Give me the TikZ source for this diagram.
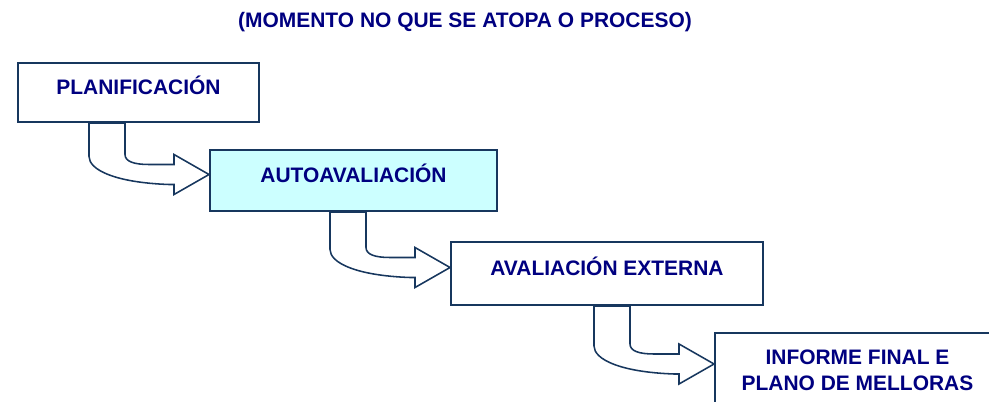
\documentclass[tikz,border=0pt]{standalone}
\usepackage{fontspec}
\setmainfont{Liberation Sans}
\usetikzlibrary{calc}
\definecolor{navytext}{RGB}{0,0,128}
\definecolor{boxline}{RGB}{23,55,94}
\definecolor{stagefill}{RGB}{204,255,255}
\def\pxu{0.025cm}
\tikzset{
  stage/.style={draw=boxline, line width=1.4pt, fill=white, inner sep=0pt,
    text=navytext, font=\fontsize{14.9}{18.5}\selectfont\bfseries,
    text height=10.7pt, text depth=8.5pt},
  bent/.style={draw=boxline, line width=1.1pt, fill=white, line join=miter}
}

\begin{document}
\begin{tikzpicture}[x=\pxu, y=-\pxu]
  \useasboundingbox (0,0) rectangle (989,402);
  \clip (0,0) rectangle (989,402);
  \node[text=navytext, font=\fontsize{14.9}{18}\selectfont\bfseries] (title) at (465,22) {(MOMENTO NO QUE SE ATOPA O PROCESO)};
  \node[stage, minimum width=241*\pxu, minimum height=59*\pxu] (plan) at (138.5,92.5) {PLANIFICACIÓN};
  \node[stage, fill=stagefill, minimum width=287*\pxu, minimum height=61*\pxu] (auto) at (353.5,180.5) {AUTOAVALIACIÓN};
  \node[stage, minimum width=312*\pxu, minimum height=63*\pxu] (ext) at (607,273.5) {AVALIACIÓN EXTERNA};
  \node[stage, text height={}, text depth={}, align=center, minimum width=285*\pxu, minimum height=74*\pxu] (final) at (857.5,370) {INFORME FINAL E\\PLANO DE MELLORAS};
  \foreach \src/\dst in {plan/auto, auto/ext, ext/final} {
    \coordinate (tip) at ($(\dst.west)+(0,-6)$);
    \coordinate (top) at (tip |- \src.south);
    \draw[bent] ($(top)+(-120,0)$) -- ($(tip)+(-120,-18)$)
      .. controls ($(tip)+(-120,-5)$) and ($(tip)+(-95,8)$) .. ($(tip)+(-40,10)$)
      -- ($(tip)+(-35,10)$) -- ($(tip)+(-35,20)$) -- (tip) -- ($(tip)+(-35,-20)$)
      -- ($(tip)+(-35,-10)$) -- ($(tip)+(-60,-10)$)
      .. controls ($(tip)+(-75,-10)$) and ($(tip)+(-84,-13)$) .. ($(tip)+(-84,-20)$)
      -- ($(top)+(-84,0)$) -- cycle;
  }
\end{tikzpicture}
\end{document}
